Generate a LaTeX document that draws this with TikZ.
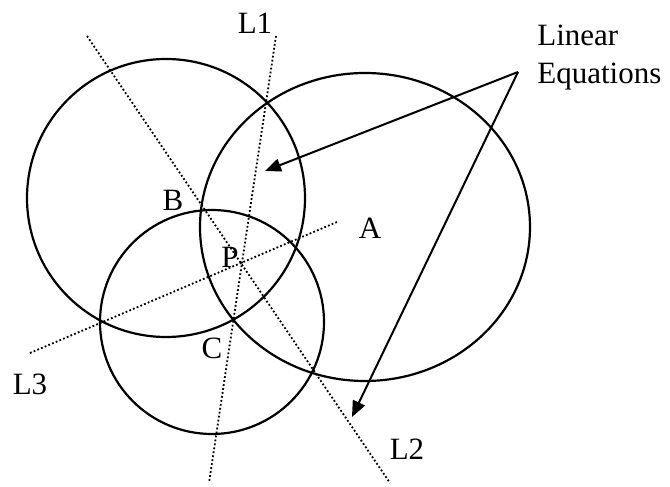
\documentclass[tikz,border=0pt]{standalone}
\usepackage{fontspec}
\setmainfont{Liberation Serif}
\usepackage{tikz}
\usetikzlibrary{arrows.meta, positioning}
\tikzstyle{arrow}=[-{Triangle[length=8pt,width=6.5pt]}, line width=1pt, color=black]
\tikzstyle{ring}=[line width=1.1pt, color=black]
\tikzstyle{axis}=[line width=0.9pt, dash pattern=on 0.9pt off 1.1pt]
\tikzstyle{lbl}=[inner sep=0pt, font=\fontsize{15.5}{19}\selectfont]

\begin{document}
\begin{tikzpicture}[x=0.5pt, y=0.5pt]
  \useasboundingbox (0,0) rectangle (670,487);

  % Circles
  \draw[ring] (166,289) circle (139);
  \draw[ring] (365,260) ellipse [x radius=165, y radius=154];
  \draw[ring] (212,165) circle (112);

  % Lines through P
  \coordinate (l1a) at (276,451); \coordinate (l1b) at (209,4);
  \coordinate (l2a) at (87,451);  \coordinate (l2b) at (390,4);
  \coordinate (l3a) at (30,134);  \coordinate (l3b) at (337,265);
  \draw[axis] (l1a) -- (l1b);
  \draw[axis] (l2a) -- (l2b);
  \draw[axis] (l3a) -- (l3b);

  % Labels
  \node[lbl] (L1) at (255,464) {L1};
  \node[lbl] (L2) at (407,38) {L2};
  \node[lbl] (L3) at (30,103) {L3};
  \node[lbl] (A) at (370,259) {A};
  \node[lbl] (B) at (173,287) {B};
  \node[lbl] (P) at (230,230) {P};
  \node[lbl] (C) at (212,139) {C};
  \node[lbl, align=left, anchor=north west] (eqs) at (537,462) {Linear\\Equations};

  % Arrows
  \coordinate (tail) at (518,415);
  \coordinate (tip1) at (265,316);
  \coordinate (tip2) at (352,70);
  \draw[arrow] (tail) -- (tip1);
  \draw[arrow] (tail) -- (tip2);
\end{tikzpicture}
\end{document}
